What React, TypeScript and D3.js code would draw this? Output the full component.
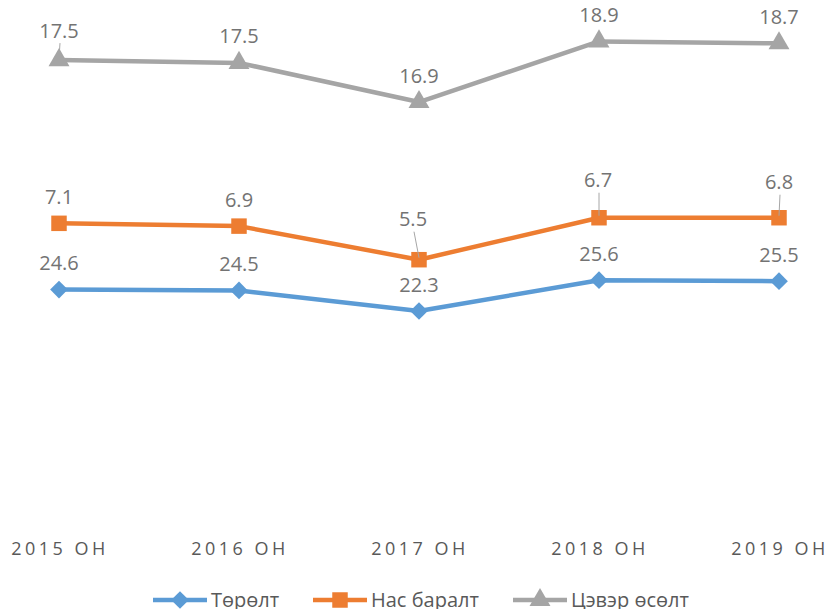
import React, { useEffect, useRef } from 'react'
import * as d3 from 'd3'

const years = ['2015 ОН', '2016 ОН', '2017 ОН', '2018 ОН', '2019 ОН']
const birth = [24.6, 24.5, 22.3, 25.6, 25.5]
const death = [7.1, 6.9, 5.5, 6.7, 6.8]
const growth = [17.5, 17.5, 16.9, 18.9, 18.7]
const seriesNames = ['Төрөлт', 'Нас баралт', 'Цэвэр өсөлт']

const colors = ['#5B9BD5', '#ED7D31', '#A5A5A5']
const shapes = [d3.symbolDiamond2, d3.symbolSquare, d3.symbolTriangle]
const markSizes = [200, 240, 190]

// label placement tweaks (series-index) -> offset above point, with leader line
const labelTweaks: Record<string, { dx: number; dy: number; leader?: boolean }> = {
  '1-2': { dx: -6, dy: -41, leader: true },
  '1-3': { dx: -1, dy: -38, leader: true },
  '1-4': { dx: 0, dy: -36, leader: true },
  '2-0': { dx: 0, dy: -30, leader: true }
}

const App = () => {
  const ref = useRef<SVGSVGElement>(null)

  useEffect(() => {
    const svg = d3.select(ref.current)
    svg.selectAll('*').remove()

    const rows = years.map((y, i) => ({ year: y, b: birth[i], d: death[i], g: growth[i] }))
    // stacked line chart
    const stacked = d3.stack<any>().keys(['b', 'd', 'g'])(rows)

    const x = d3.scalePoint().domain(years).range([59, 779])
    const y = d3.scaleLinear().domain([0, 55]).range([519, 6])

    const font = '"Open Sans", sans-serif'

    // category axis labels
    svg
      .append('g')
      .selectAll('text')
      .data(years)
      .enter()
      .append('text')
      .attr('x', (d) => (x(d) as number) + 1)
      .attr('y', 548)
      .attr('text-anchor', 'middle')
      .attr('dominant-baseline', 'central')
      .style('font-family', font)
      .style('font-size', '18px')
      .style('letter-spacing', '3.5px')
      .style('fill', '#595959')
      .text((d) => d)

    const line = d3
      .line<any>()
      .x((d) => x(d.data.year) as number)
      .y((d) => y(d[1]))

    const rawValues = [birth, death, growth]

    stacked.forEach((layer, si) => {
      const g = svg.append('g')
      g.append('path')
        .datum(layer)
        .attr('d', line)
        .attr('fill', 'none')
        .attr('stroke', colors[si])
        .attr('stroke-width', 4.5)
        .attr('stroke-linejoin', 'round')

      g.selectAll('path.mark')
        .data(layer)
        .enter()
        .append('path')
        .attr('class', 'mark')
        .attr('d', d3.symbol().type(shapes[si]).size(markSizes[si]))
        .attr('transform', (d: any) => `translate(${x(d.data.year)},${y(d[1])})`)
        .attr('fill', colors[si])

      layer.forEach((d: any, i) => {
        const px = x(d.data.year) as number
        const py = y(d[1])
        const tw = labelTweaks[`${si}-${i}`] || { dx: 0, dy: -27 }
        const lx = px + tw.dx
        const ly = py + tw.dy
        if (tw.leader) {
          g.append('line')
            .attr('x1', lx + 1)
            .attr('y1', ly + 13)
            .attr('x2', px)
            .attr('y2', py - 2)
            .attr('stroke', '#A6A6A6')
            .attr('stroke-width', 1)
        }
        g.append('text')
          .attr('x', lx)
          .attr('y', ly)
          .attr('text-anchor', 'middle')
          .attr('dominant-baseline', 'central')
          .style('font-family', font)
          .style('font-size', '20px')
          .style('fill', '#737373')
          .text(d3.format('.1f')(rawValues[si][i]))
      })
    })

    // legend
    const legendX = [153, 313, 513]
    const legend = svg.append('g')
    seriesNames.forEach((name, si) => {
      const lx = legendX[si]
      const ly = 600
      legend
        .append('line')
        .attr('x1', lx)
        .attr('x2', lx + 54)
        .attr('y1', ly)
        .attr('y2', ly)
        .attr('stroke', colors[si])
        .attr('stroke-width', 4.5)
      legend
        .append('path')
        .attr('d', d3.symbol().type(shapes[si]).size(markSizes[si]))
        .attr('transform', `translate(${lx + 27},${ly})`)
        .attr('fill', colors[si])
      legend
        .append('text')
        .attr('x', lx + 58)
        .attr('y', ly - 1)
        .attr('dominant-baseline', 'central')
        .style('font-family', font)
        .style('font-size', '20px')
        .style('fill', '#595959')
        .text(name)
    })
  }, [])

  return (
    <svg
      ref={ref}
      width={826}
      height={609}
      style={{ position: 'absolute', left: 0, top: 0, background: '#fff' }}
    />
  )
}

export default App
